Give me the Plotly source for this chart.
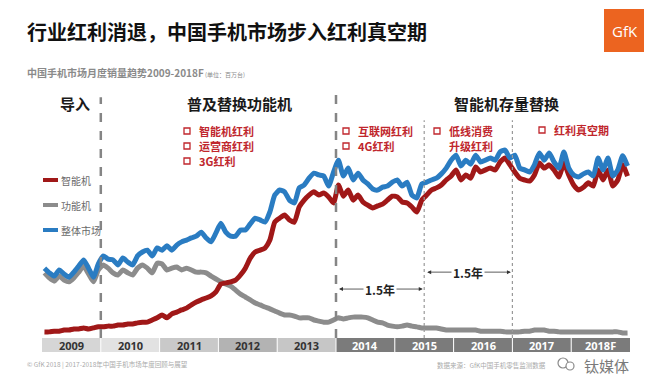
import plotly.graph_objects as go

years = ["2009", "2010", "2011", "2012", "2013", "2014", "2015", "2016", "2017", "2018F"]

# monthly sales, millions of units
smart = [
    1.7, 1.7, 1.9, 1.9, 2.2, 2.2, 2.5, 2.5, 2.8, 2.5, 2.8, 3.1,
    3.1, 3.3, 3.3, 3.6, 3.6, 3.9, 3.9, 4.2, 4.4, 4.4, 5.0, 5.6,
    6.4, 5.6, 6.7, 7.2, 7.8, 8.3, 9.2, 10.0, 10.6, 11.1, 11.7, 12.8,
    15.0, 15.3, 15.6, 16.1, 17.5, 19.4, 22.2, 23.9, 24.4, 25.0, 27.2, 32.2,
    33.3, 34.2, 32.8, 32.2, 36.4, 38.3, 39.7, 40.6, 39.7, 40.3, 39.2, 37.5,
    42.5, 39.4, 41.1, 38.3, 39.7, 37.8, 36.9, 36.1, 36.7, 37.2, 38.3, 39.4,
    39.2, 37.8, 37.5, 36.4, 35.0, 38.3, 39.7, 41.1, 41.7, 42.5, 43.9, 45.0,
    46.7, 43.9, 45.3, 44.4, 47.5, 46.1, 46.7, 47.2, 46.7, 48.9, 50.0, 48.1,
    46.1, 44.4, 43.9, 43.6, 45.3, 48.6, 47.2, 48.1, 46.7, 44.7, 48.6, 45.3,
    42.5, 41.1, 41.9, 43.1, 42.2, 46.7, 43.9, 46.7, 42.2, 43.9, 48.1, 45.0,
]
feature = [
    18.1, 16.7, 15.8, 17.2, 16.1, 15.6, 16.7, 18.3, 20.0, 17.8, 15.6, 18.9,
    20.3, 19.4, 18.1, 17.5, 18.9, 18.1, 17.5, 19.4, 20.3, 19.4, 18.1, 20.8,
    20.6, 18.9, 19.4, 19.7, 18.9, 19.4, 18.9, 18.3, 18.3, 18.1, 17.2, 16.4,
    15.6, 15.0, 14.4, 13.3, 12.2, 11.4, 10.6, 9.7, 9.2, 8.6, 8.1, 7.5,
    6.9, 6.4, 6.4, 6.1, 5.6, 5.6, 5.6, 5.0, 4.7, 4.4, 4.4, 5.0,
    5.6, 5.3, 5.6, 5.8, 5.8, 5.8, 5.6, 5.0, 4.4, 4.2, 3.6, 3.3,
    3.1, 3.3, 3.6, 3.3, 3.1, 2.8, 2.8, 2.8, 2.8, 2.5, 2.2, 2.2,
    2.2, 2.2, 2.2, 2.2, 2.2, 1.9, 1.9, 1.9, 1.9, 1.9, 1.7, 1.7,
    1.7, 1.7, 1.9, 1.9, 2.2, 2.2, 2.2, 1.9, 1.9, 1.7, 1.7, 1.7,
    1.7, 1.7, 1.7, 1.7, 1.7, 1.7, 1.7, 1.7, 1.7, 1.7, 1.4, 1.4,
]
total = [
    19.4, 18.1, 17.2, 18.9, 17.8, 16.9, 18.3, 20.0, 21.7, 19.4, 16.9, 20.6,
    22.8, 21.9, 21.7, 20.3, 22.2, 21.1, 20.3, 22.8, 23.9, 24.4, 22.8, 25.0,
    24.4, 25.6, 24.4, 25.8, 26.7, 27.2, 27.8, 28.3, 29.4, 27.8, 26.7, 29.2,
    31.9, 29.4, 28.3, 28.3, 30.0, 30.0, 31.7, 33.3, 32.8, 32.2, 35.0, 39.7,
    41.1, 40.6, 38.3, 37.5, 41.7, 42.5, 44.4, 45.8, 45.3, 45.0, 42.2, 46.1,
    49.4, 45.0, 47.2, 43.9, 45.8, 43.9, 42.8, 41.4, 41.1, 41.9, 42.2, 43.3,
    43.9, 42.2, 43.3, 39.7, 38.9, 42.8, 43.3, 43.9, 44.4, 45.6, 47.2, 49.4,
    50.8, 47.8, 49.4, 48.3, 50.8, 48.9, 49.4, 50.0, 49.4, 51.7, 52.2, 50.0,
    50.8, 47.2, 46.7, 46.1, 48.1, 51.4, 49.4, 51.4, 48.9, 47.2, 51.7, 47.2,
    45.3, 44.7, 45.6, 46.1, 45.0, 50.0, 46.7, 50.0, 45.0, 46.7, 50.6, 47.8,
]
series_names = ["智能机", "功能机", "整体市场"]
month_idx = list(range(len(smart)))

RED = "#a01818"
GREY = "#8c8c8c"
BLUE = "#2a7cc2"
TXT_RED = "#c0262c"

# the page body has an 8px margin; positions below are given in window pixels
OFF = 8
W, H = 652 - OFF, 386 - OFF
L, R, T, B = 42 - OFF, 630 - OFF, 90 - OFF, 352 - OFF


def X(px):
    return (px - OFF - L) / (R - L)


def Y(py):
    return (B - (py - OFF)) / (B - T)


def txt(x, y, text, size, color, xa="center", ya="middle", **kw):
    d = dict(x=X(x), y=Y(y), xref="paper", yref="paper", xanchor=xa, yanchor=ya,
             text=text, showarrow=False, font=dict(size=size, color=color))
    d.update(kw)
    return d


fig = go.Figure()
for name, vals, col in [(series_names[1], feature, GREY), (series_names[0], smart, RED), (series_names[2], total, BLUE)]:
    fig.add_trace(go.Scatter(x=month_idx, y=vals, mode="lines", name=name,
                             line=dict(color=col, width=5, shape="spline", smoothing=0.5),
                             showlegend=False))

shapes = []
annos = []

# year band
band_cols = ["#d6d6d6", "#e2e2e2", "#c9c9c9", "#b3b3b3", "#c6c6c6",
             "#7b7b7b", "#7b7b7b", "#7b7b7b", "#7b7b7b", "#7b7b7b"]
ymin = -3.89
for k, yr in enumerate(years):
    shapes.append(dict(type="rect", xref="x", yref="y", x0=12 * k - 0.5, x1=12 * k + 11.5,
                       y0=ymin, y1=0, fillcolor=band_cols[k], line=dict(width=0), layer="below"))
    if k > 0:
        shapes.append(dict(type="line", xref="x", yref="y", x0=12 * k - 0.5, x1=12 * k - 0.5,
                           y0=ymin, y1=0, line=dict(color="white", width=1)))
    annos.append(dict(x=12 * k + 5.5, y=ymin / 2, xref="x", yref="y", text="<b>%s</b>" % yr,
                      xanchor="center", yanchor="middle", showarrow=False,
                      font=dict(size=11, color="#333333" if k < 5 else "white",
                                family="Open Sans, sans-serif")))

# phase separators
shapes.append(dict(type="line", xref="x", yref="y", x0=11.5, x1=11.5, y0=0, y1=66.9,
                   line=dict(color="#858585", width=2.5, dash="dash")))
shapes.append(dict(type="line", xref="x", yref="y", x0=59.5, x1=59.5, y0=0, y1=68.0,
                   line=dict(color="#858585", width=2.5, dash="dash")))
for xv in [77.5, 95.5]:
    shapes.append(dict(type="line", xref="x", yref="y", x0=xv, x1=xv, y0=0, y1=60.5,
                       line=dict(color="#999999", width=1.2, dash="dot")))

# 1.5 year arrows
for x0, x1, yv in [(59.8, 77.2, 13.6), (77.8, 95.2, 18.3)]:
    annos.append(dict(x=x1, y=yv, ax=x0, ay=yv, xref="x", yref="y", axref="x", ayref="y",
                      text="", showarrow=True, arrowside="end+start", arrowhead=2,
                      arrowsize=1, arrowwidth=0.8, arrowcolor="#333333"))
    annos.append(dict(x=(x0 + x1) / 2, y=yv, xref="x", yref="y", text="<b>1.5年</b>",
                      xanchor="center", yanchor="middle",
                      showarrow=False, bgcolor="white", font=dict(size=12, color="#222222"),
                      borderpad=1))

# title, subtitle
annos.append(txt(25, 31, "<b>行业红利消退，中国手机市场步入红利真空期</b>", 20, "#111111", xa="left"))
annos.append(txt(25, 72, "<b>中国手机市场月度销量趋势2009-2018F</b><span style='font-size:6px'> (单位：百万台)</span>",
                 10, "#8a8a8a", xa="left"))

# GfK logo
shapes.append(dict(type="rect", xref="paper", yref="paper", x0=X(604), x1=X(645), y0=Y(52), y1=Y(9),
                   fillcolor="#ec6420", line=dict(width=0)))
annos.append(txt(624.5, 31, "GfK", 15, "white", font=dict(size=15, color="white", family="Open Sans, sans-serif")))

# phase labels
for t, cx in [("导入", 75), ("普及替换功能机", 239), ("智能机存量替换", 506)]:
    annos.append(txt(cx, 103, "<b>%s</b>" % t, 15, "#1a1a1a"))

# red bullet notes
notes = [(187, 131, "智能机红利", True), (187, 146, "运营商红利", True), (187, 161, "3G红利", True),
         (346, 131, "互联网红利", True), (346, 146, "4G红利", True),
         (437, 131, "低线消费", True), (437, 146, "升级红利", False),
         (542, 130, "红利真空期", True)]
for sx, sy, t, box in notes:
    if box:
        shapes.append(dict(type="rect", xref="paper", yref="paper", x0=X(sx - 3), x1=X(sx + 3),
                           y0=Y(sy + 3), y1=Y(sy - 3), line=dict(color=TXT_RED, width=1.3),
                           fillcolor="rgba(0,0,0,0)"))
    annos.append(txt(sx + 10, sy, "<b>%s</b>" % t, 11, TXT_RED, xa="left"))

# legend
for i, (name, col) in enumerate([(series_names[0], RED), (series_names[1], GREY), (series_names[2], BLUE)]):
    yy = 180 + 25 * i
    shapes.append(dict(type="line", xref="paper", yref="paper", x0=X(43), x1=X(58), y0=Y(yy), y1=Y(yy),
                       line=dict(color=col, width=4)))
    annos.append(txt(59, yy, name, 10, "#6a6a6a", xa="left"))

# footer
annos.append(txt(25, 364, "© GfK 2018 | 2017-2018年中国手机市场年度回顾与展望", 6.5, "#aaaaaa", xa="left"))
annos.append(txt(435, 365, "数据来源：GfK中国手机零售监测数据", 6.5, "#aaaaaa", xa="left"))
annos.append(txt(606, 365, "钛媒体", 15, "#7a7a7a"))
# small chat-bubble icon of the watermark
for cx, cy, r in [(563, 363, 5), (570, 366, 4)]:
    shapes.append(dict(type="circle", xref="paper", yref="paper", x0=X(cx - r), x1=X(cx + r),
                       y0=Y(cy + r), y1=Y(cy - r), line=dict(color="#8a8a8a", width=1.2),
                       fillcolor="white"))

fig.update_layout(
    width=W, height=H, autosize=False,
    margin=dict(l=L, r=W - R, t=T, b=H - B, pad=0),
    paper_bgcolor="white", plot_bgcolor="white",
    font=dict(family="Noto Sans CJK SC, sans-serif"),
    xaxis=dict(range=[-0.5, len(smart) - 0.5], visible=False, fixedrange=True),
    yaxis=dict(range=[ymin, 68.9], visible=False, fixedrange=True),
    shapes=shapes, annotations=annos, showlegend=False,
)

fig.write_html("out.html")
